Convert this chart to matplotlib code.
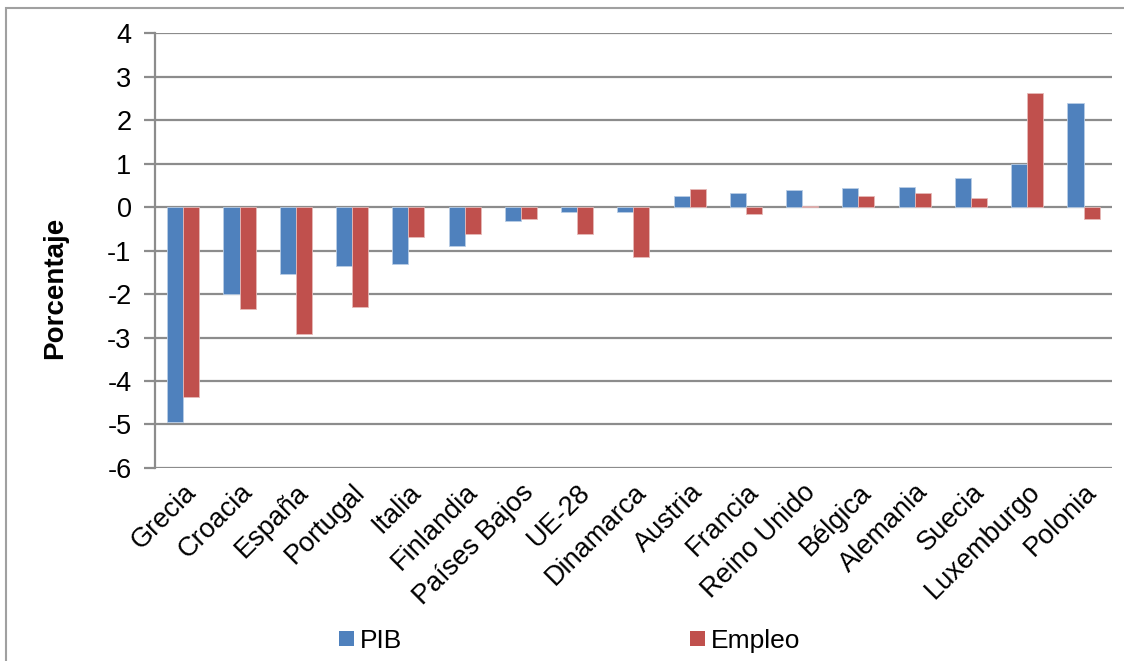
import matplotlib.pyplot as plt
import numpy as np
from matplotlib.patches import Patch, Rectangle

plt.rcParams['font.family'] = ['Liberation Sans', 'DejaVu Sans']
plt.rcParams['axes.unicode_minus'] = False

paises = ['Grecia', 'Croacia', 'España', 'Portugal', 'Italia', 'Finlandia',
          'Países Bajos', 'UE-28', 'Dinamarca', 'Austria', 'Francia',
          'Reino Unido', 'Bélgica', 'Alemania', 'Suecia', 'Luxemburgo', 'Polonia']
pib = [-4.95, -2.0, -1.54, -1.35, -1.31, -0.89, -0.33, -0.12, -0.11,
       0.25, 0.32, 0.40, 0.43, 0.45, 0.67, 1.0, 2.39]
empleo = [-4.36, -2.35, -2.91, -2.31, -0.69, -0.63, -0.27, -0.61, -1.14,
          0.42, -0.17, 0.03, 0.25, 0.32, 0.21, 2.62, -0.28]

azul = '#4F81BD'
rojo = '#C0504D'
gris = '#8C8C8C'

fig = plt.figure(figsize=(11.24, 6.61), dpi=100)
ax = fig.add_axes([0.138, 0.292, 0.851, 0.658])

x = np.arange(len(paises))
w = 0.285
ax.bar(x - w / 2, pib, w, color=azul, edgecolor='#B9CDE5', linewidth=0.6, zorder=3)
ax.bar(x + w / 2, empleo, w, color=rojo, edgecolor='#E6B9B8', linewidth=0.6, zorder=3)

ax.set_xlim(-0.5, len(paises) - 0.5)
ax.set_ylim(-6, 4)
ax.set_yticks(range(-6, 5))
ax.yaxis.grid(True, color=gris, linewidth=1.6, zorder=0)
ax.set_axisbelow(True)

for s in ['top', 'right', 'bottom']:
    ax.spines[s].set_visible(False)
ax.spines['left'].set_color(gris)
ax.spines['left'].set_linewidth(1.6)

ax.tick_params(axis='y', length=8, width=1.6, color=gris, labelsize=19.5, pad=9)
ax.tick_params(axis='x', length=0, labelsize=19.5, pad=8)
ax.set_xticks(x)
ax.set_xticklabels(paises, rotation=45, ha='right', rotation_mode='anchor')

fig.text(55 / 1124, 1 - 288 / 661, 'Porcentaje', rotation=90, fontsize=20,
         fontweight='bold', ha='center', va='center')

handles = [Patch(facecolor=azul), Patch(facecolor=rojo)]
fig.legend(handles, ['PIB', 'Empleo'], loc='center', bbox_to_anchor=(0.507, 0.03),
           ncol=2, frameon=False, fontsize=19, handlelength=0.55, handleheight=0.5,
           handletextpad=0.25, columnspacing=10.9)

fig.patches.append(Rectangle((6 / 1124, -0.01), 1.2, 1 - 8 / 661 + 0.01,
                             transform=fig.transFigure, fill=False,
                             edgecolor='#A0A0A0', linewidth=1.5))

fig.savefig('out.png', dpi=100)
